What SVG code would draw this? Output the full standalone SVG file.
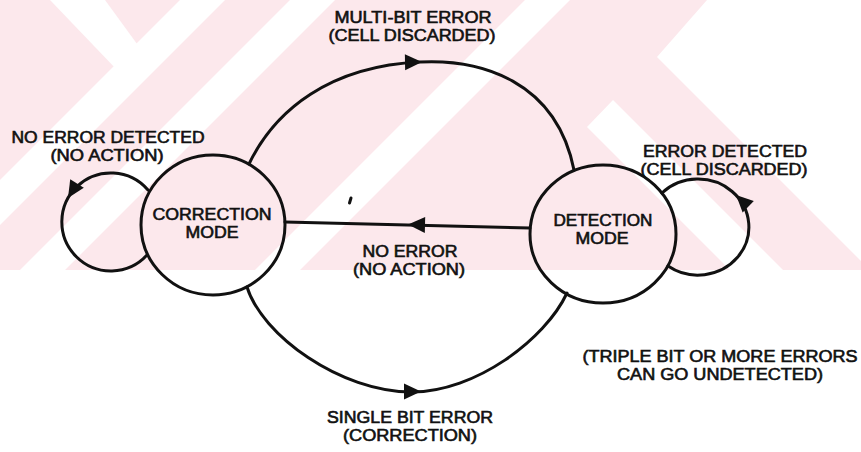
<svg xmlns="http://www.w3.org/2000/svg" xmlns:xlink="http://www.w3.org/1999/xlink" width="861" height="452" viewBox="0 0 861 452">
  <style>
    .bg { fill: #ffffff; }
    .wm { fill: #fce8ec; }
    .wm-gap { fill: #ffffff; }
    .state { fill: none; stroke: #111111; stroke-width: 3; }
    .edge { fill: none; stroke: #111111; stroke-width: 3; stroke-linecap: round; }
    .head { fill: #111111; }
    text { font-family: "Liberation Sans", Arial, Helvetica, sans-serif; font-size: 16px; fill: #111111; stroke: #111111; stroke-width: 0.6; text-anchor: middle; }
  </style>
  <defs>
    <!-- filled arrowhead, tip at the origin, pointing along +x -->
    <path id="arrowhead" class="head" d="M0,0 L-17,-8 L-17,8 Z"/>
  </defs>

  <rect class="bg" x="0" y="0" width="861" height="452"/>

  <!-- light pink background band with diagonal gaps -->
  <g id="watermark">
    <rect class="wm" x="0" y="0" width="861" height="270"/>
    <polygon class="wm-gap" points="707,0 861,0 861,261 657,57"/>
    <polygon class="wm-gap" points="587,127 613,100 783,270 730,270"/>
    <polygon class="wm-gap" points="50,0 105,0 140,48 117,70"/>
    <polygon class="wm-gap" points="180,0 225,0 0,225 0,180"/>
    <polygon class="wm-gap" points="290,0 335,0 65,270 20,270"/>
    <polygon class="wm-gap" points="525,0 570,0 300,270 255,270"/>
  </g>

  <g id="connectors">
    <!-- multi-bit error: correction -> detection -->
    <path class="edge" d="M249,164 C275,110 330,66 420,62 C480,59 556,80 574,170"/>
    <use xlink:href="#arrowhead" transform="translate(422,62) rotate(-1)"/>
    <!-- no error: detection -> correction -->
    <path class="edge" d="M530,228 L285,222"/>
    <use xlink:href="#arrowhead" transform="translate(408,224.5) rotate(181.4)"/>
    <!-- single bit error: correction -> detection -->
    <path class="edge" d="M247,287 C262,335 340,392 412,392 C475,392 545,340 567,293"/>
    <use xlink:href="#arrowhead" transform="translate(421,391.5) rotate(0)"/>
    <!-- self loop on correction mode -->
    <path class="edge" d="M148,190 A49,49 0 1 0 147,255"/>
    <use xlink:href="#arrowhead" transform="translate(68,198) rotate(122)"/>
    <!-- self loop on detection mode -->
    <path class="edge" d="M668,266 A51,48 0 1 0 662,193"/>
    <use xlink:href="#arrowhead" transform="translate(736,195) rotate(-136)"/>
    <!-- small stray mark -->
    <path class="edge" d="M349.5,203 L351,198" stroke-width="1.5"/>
  </g>

  <g id="edge-labels">
    <text x="413" y="22.5" textLength="157" lengthAdjust="spacingAndGlyphs">MULTI-BIT ERROR</text>
    <text x="412" y="40.5" textLength="167" lengthAdjust="spacingAndGlyphs">(CELL DISCARDED)</text>
    <text x="108" y="142.5" textLength="193" lengthAdjust="spacingAndGlyphs">NO ERROR DETECTED</text>
    <text x="107" y="160.5" textLength="113" lengthAdjust="spacingAndGlyphs">(NO ACTION)</text>
    <text x="725" y="156.5" textLength="164" lengthAdjust="spacingAndGlyphs">ERROR DETECTED</text>
    <text x="724" y="174.5" textLength="167" lengthAdjust="spacingAndGlyphs">(CELL DISCARDED)</text>
    <text x="410" y="256.5" textLength="95" lengthAdjust="spacingAndGlyphs">NO ERROR</text>
    <text x="409" y="274.5" textLength="112" lengthAdjust="spacingAndGlyphs">(NO ACTION)</text>
    <text x="410" y="422.5" textLength="166" lengthAdjust="spacingAndGlyphs">SINGLE BIT ERROR</text>
    <text x="410" y="440.5" textLength="134" lengthAdjust="spacingAndGlyphs">(CORRECTION)</text>
  </g>

  <g id="correction-mode">
    <ellipse class="state" cx="213" cy="225" rx="72" ry="70"/>
    <text x="212" y="219.5" textLength="119" lengthAdjust="spacingAndGlyphs">CORRECTION</text>
    <text x="212" y="237.5" textLength="53" lengthAdjust="spacingAndGlyphs">MODE</text>
  </g>

  <g id="detection-mode">
    <ellipse class="state" cx="603" cy="234" rx="73" ry="69"/>
    <text x="603" y="225.5" textLength="99" lengthAdjust="spacingAndGlyphs">DETECTION</text>
    <text x="602" y="243.5" textLength="53" lengthAdjust="spacingAndGlyphs">MODE</text>
  </g>

  <g id="note">
    <text x="720" y="361.5" textLength="275" lengthAdjust="spacingAndGlyphs">(TRIPLE BIT OR MORE ERRORS</text>
    <text x="720" y="379.5" textLength="206" lengthAdjust="spacingAndGlyphs">CAN GO UNDETECTED)</text>
  </g>
</svg>
